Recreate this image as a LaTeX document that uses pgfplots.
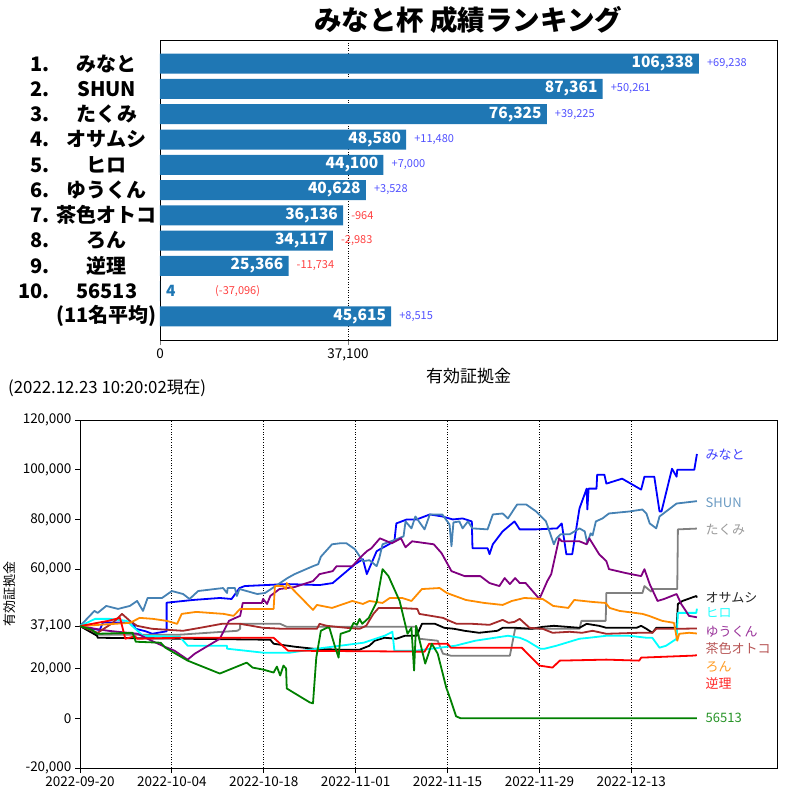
\documentclass[border=0pt]{standalone}
\usepackage{fontspec}
\setmainfont{Noto Sans CJK JP}
\usepackage{pgfplots}
\pgfplotsset{compat=1.18}

\definecolor{c0}{RGB}{31,119,180}
\definecolor{steel}{RGB}{70,130,180}
\definecolor{gry}{RGB}{128,128,128}
\definecolor{cyn}{RGB}{0,255,255}
\definecolor{purp}{RGB}{128,0,128}
\definecolor{brwn}{RGB}{165,42,42}
\definecolor{dorange}{RGB}{255,140,0}
\definecolor{grn}{RGB}{0,128,0}
\definecolor{posblue}{RGB}{80,80,255}
\definecolor{negred}{RGB}{255,64,64}

\newcommand{\rk}[2]{\makebox[30pt][r]{#1}\hspace{5pt}\makebox[104pt][c]{#2}}

\begin{document}
\begin{tikzpicture}
\path[use as bounding box] (0pt,0pt) rectangle (800pt,-800pt);

\node[font=\bfseries\fontsize{27.5}{32}\selectfont] at (468pt,-20pt) {みなと杯 成績ランキング};

% ranking bars
\begin{axis}[
  at={(160pt,-40pt)}, anchor=north west,
  scale only axis, width=617pt, height=300pt,
  xmin=0, xmax=121760,
  ymin=-0.94, ymax=10.94, y dir=reverse,
  scaled x ticks=false, scaled y ticks=false,
  axis line style={line width=0.8pt},
  xtick={0,37100}, xticklabels={0,{37,100}},
  ytick={0,...,10},
  yticklabels={\rk{1.}{みなと},\rk{2.}{SHUN},\rk{3.}{たくみ},\rk{4.}{オサムシ},\rk{5.}{ヒロ},\rk{6.}{ゆうくん},\rk{7.}{茶色オトコ},\rk{8.}{ろん},\rk{9.}{逆理},\rk{10.}{56513},\rk{}{(11名平均)}},
  yticklabel style={font=\bfseries\fontsize{20}{24}\selectfont, inner sep=0pt, xshift=4pt},
  xticklabel style={font=\fontsize{13.5}{16}\selectfont},
  ytick style={draw=none},
  xtick pos=bottom, tick align=outside,
  major tick length=5pt, xtick style={line width=0.8pt},
  xmajorgrids, grid style={black, line width=0.8pt, dash pattern=on 1pt off 1.6pt},
  xlabel={有効証拠金},
  xlabel style={font=\fontsize{17}{20}\selectfont},
]
\addplot[xbar, bar width=20pt, fill=c0, draw=none] table[x=v, y=r] {
r v
0 106338
1 87361
2 76325
3 48580
4 44100
5 40628
6 36136
7 34117
8 25366
9 4
10 45615
};
% values inside the bars
\addplot[draw=none, mark=none, nodes near coords, point meta=explicit symbolic,
  nodes near coords align={horizontal},
  every node near coord/.append style={anchor=east, xshift=-5pt, inner sep=0pt, text=white, font=\bfseries\fontsize{15.5}{18}\selectfont}]
  table[x=v, y=r, meta=lab] {
r v lab
0 106338 106,338
1 87361 87,361
2 76325 76,325
3 48580 48,580
4 44100 44,100
5 40628 40,628
6 36136 36,136
7 34117 34,117
8 25366 25,366
10 45615 45,615
};
\addplot[draw=none, mark=none, nodes near coords, point meta=explicit symbolic,
  nodes near coords align={horizontal},
  every node near coord/.append style={anchor=west, xshift=6pt, inner sep=0pt, text=c0, font=\bfseries\fontsize{15.5}{18}\selectfont}]
  table[x=v, y=r, meta=lab] {
r v lab
9 4 4
};
% change against 37,100
\addplot[draw=none, mark=none, nodes near coords, point meta=explicit symbolic,
  nodes near coords align={horizontal},
  every node near coord/.append style={anchor=west, xshift=8pt, inner sep=0pt, text=posblue, font=\fontsize{11}{13}\selectfont}]
  table[x=v, y=r, meta=lab] {
r v lab
0 106338 +69,238
1 87361 +50,261
2 76325 +39,225
3 48580 +11,480
4 44100 +7,000
5 40628 +3,528
10 45615 +8,515
};
\addplot[draw=none, mark=none, nodes near coords, point meta=explicit symbolic,
  nodes near coords align={horizontal},
  every node near coord/.append style={anchor=west, xshift=8pt, inner sep=0pt, text=negred, font=\fontsize{11}{13}\selectfont}]
  table[x=v, y=r, meta=lab] {
r v lab
6 36136 -964
7 34117 -2,983
8 25366 -11,734
};
\addplot[draw=none, mark=none, nodes near coords, point meta=explicit symbolic,
  nodes near coords align={horizontal},
  every node near coord/.append style={anchor=west, xshift=55pt, inner sep=0pt, text=negred, font=\fontsize{11}{13}\selectfont}]
  table[x=v, y=r, meta=lab] {
r v lab
9 4 (-37,096)
};
\end{axis}

\node[anchor=west, inner sep=0pt, font=\fontsize{16.8}{19}\selectfont] at (8pt,-388pt) {(2022.12.23 10:20:02現在)};

% history
\begin{axis}[
  at={(80pt,-420pt)}, anchor=north west,
  scale only axis, width=697pt, height=348pt,
  xmin=0, xmax=106.2, ymin=-20000, ymax=120000,
  scaled x ticks=false, scaled y ticks=false,
  axis line style={line width=0.8pt},
  xtick={0,14,28,42,56,70,84},
  xticklabels={2022-09-20,2022-10-04,2022-10-18,2022-11-01,2022-11-15,2022-11-29,2022-12-13},
  ytick={-20000,0,20000,37100,60000,80000,100000,120000},
  yticklabels={{-20,000},{0},{20,000},{37,100},{60,000},{80,000},{100,000},{120,000}},
  tick label style={font=\fontsize{13.5}{16}\selectfont},
  xtick pos=bottom, ytick pos=left, tick align=outside,
  major tick length=5pt, tick style={line width=0.8pt, black},
  xmajorgrids, grid style={black, line width=0.8pt, dash pattern=on 1pt off 1.6pt},
  ylabel={有効証拠金},
  ylabel style={font=\fontsize{13}{15}\selectfont},
  every axis plot/.append style={line width=1.8pt, line join=round},
]
% みなと
\addplot[blue] coordinates {
(0,37100)(2,36000)(3,35500)(3.5,38500)(8,38500)(8.5,36000)(10,35000)(11,34000)(13.2,35000)(13.2,46500)
(17.2,47600)(21.3,48400)(23.1,48000)(24.3,52400)(25.1,53200)(31.5,54000)(36.5,53600)(38.5,54400)
(41.9,62000)(43.1,64000)(43.7,58000)(45.2,67200)(45.7,68000)(47.9,71200)(48.2,78400)(49.8,80000)
(51.3,80000)(53.3,82000)(55.2,81200)(56.8,80000)(58.3,80400)(59.7,79200)(59.8,68400)(62.1,68400)
(62.4,66000)(62.9,70000)(64.4,75200)(66.2,79200)(67.0,76000)(69.5,76000)(72.7,76400)(73.4,78400)
(74.1,66000)(75.0,66000)(76.1,84400)(77.2,92400)(77.3,84000)(77.5,92400)(78.7,92400)(78.8,98000)
(79.9,98000)(80.2,94400)(82.6,96400)(85.5,92000)(86.0,97200)(87.5,97200)(88.3,83200)(88.6,83200)
(90.2,100400)(90.9,97200)(91.0,100000)(93.6,100000)(94,106338)
};
% SHUN
\addplot[steel] coordinates {
(0,37100)(2.2,43200)(2.7,42400)(4,45200)(5.8,44000)(7.6,45200)(8.7,47200)(9.6,43200)(10.3,48400)
(12.5,48400)(14,51200)(15.7,50000)(16.7,48000)(18,51200)(21.8,52400)(22.4,50400)(22.5,52400)
(23.6,52400)(23.9,49200)(24.3,52000)(27,50000)(28.2,50400)(31.6,56400)(32.7,58000)(35.5,61200)
(36.3,62000)(36.7,65000)(38.4,70000)(39.6,70400)(40.6,70400)(41.9,68000)(42.6,65200)(43.1,63200)
(44.1,63600)(45.2,61200)(45.6,64400)(46.1,70000)(48.2,72000)(49.3,73200)(49.6,79200)(50.5,76400)
(51.1,81200)(52.5,76000)(53.3,82000)(55.2,82000)(56.3,78000)(56.6,69200)(56.9,78800)(57.8,79200)
(58.3,76400)(59.1,79200)(59.8,76400)(62.1,76000)(62.9,82000)(64.4,82400)(65.2,80400)(66.6,86000)
(68.0,86000)(69.5,83200)(71.0,79200)(72.2,70000)(72.6,72400)(73.2,74000)(74.6,74000)(76.1,76400)
(76.9,75200)(77.3,70400)(77.8,74400)(78.1,73600)(78.6,79200)(79.6,80400)(80.6,82400)(83.7,83200)
(85.7,84000)(86.3,82400)(86.8,78400)(87.8,76400)(88.3,81200)(90.9,86400)(94,87361)
};
% たくみ
\addplot[gry] coordinates {
(0,37100)(2,35000)(2.5,33600)(15,33600)(24,35200)(24.4,36000)(24.4,38000)(30.5,38000)(31.5,36800)
(51.3,36800)(51.7,32000)(54.5,31200)(55.3,26000)(56.5,25200)(65.5,25200)(66.3,36000)(76.1,36000)
(76.4,39200)(80.1,39200)(80.2,50400)(85.7,50400)(86,53200)(87,51000)(87.2,52000)(91,52000)
(91.1,76000)(94,76325)
};
% オサムシ
\addplot[black] coordinates {
(0,37100)(2.6,33200)(2.7,32400)(16,32000)(29,31600)(29.5,30000)(32.7,28800)(35.5,28000)(39.5,27600)
(42.6,27600)(44.1,29200)(44.9,31200)(46.4,32400)(48.2,32000)(49.5,33200)(51.3,33200)(52.1,38000)
(54.1,38000)(55.5,36400)(57,36000)(58.6,35200)(60.8,34400)(63.6,35200)(64.4,36400)(66.4,36400)
(68.8,36000)(70.5,36800)(72.2,37200)(76.1,36400)(77.2,38000)(79.1,37200)(80.2,36400)(84.8,36400)
(85.5,37200)(86.3,36000)(87.2,34400)(87.8,36400)(90.9,36400)(91.1,46000)(91.8,47200)(93.9,49200)
(94,48580)
};
% ヒロ
\addplot[cyn] coordinates {
(0,37100)(2.3,40000)(4.5,40000)(7.1,39200)(9.6,33200)(15.2,32800)(16.4,29200)(22.4,29200)
(22.4,28000)(27.9,26400)(32,26400)(36.1,28000)(43.2,30400)(46.4,33200)(47.6,34800)(47.9,27200)
(51.2,27200)(53.6,28000)(57.2,29200)(60.2,31200)(63.2,32400)(65.2,33200)(67.0,32400)(68.1,31200)
(70.1,28000)(70.8,28000)(72.6,29200)(74.1,30400)(76.1,32000)(77.6,32400)(80.2,33200)(83.7,33200)
(86.3,32400)(87.2,32400)(88.3,28400)(89.3,29200)(90.9,32000)(91.1,42400)(93.9,42400)(94,44100)
};
% ゆうくん
\addplot[purp] coordinates {
(0,37100)(2.3,36000)(4.3,35200)(8.8,34000)(10.9,31200)(12.9,28800)(14.4,27200)(16.4,23600)
(17.5,26000)(21.3,32000)(22.7,39200)(23.7,40400)(24.4,41200)(24.8,46400)(27.7,46400)(27.9,48000)
(28.5,46000)(29,49200)(30.4,52000)(32.7,52800)(35.5,55200)(36.5,58000)(38.5,59200)(39.1,61200)
(41.5,61200)(42.6,64400)(43.7,67200)(44.4,68400)(45.7,72400)(47.5,70400)(48.9,72400)(49.6,68800)
(50.6,71200)(53.9,70000)(55.1,66400)(56.6,59200)(58.6,57200)(61.0,57200)(62.4,54400)(63.9,53200)
(64.7,56400)(65.5,54000)(66.3,56400)(67.0,54400)(67.9,54400)(70.0,48000)(71.2,55200)(71.8,58000)
(73.0,72400)(73.4,71200)(76.1,71200)(77.2,70000)(77.6,72400)(79.1,66000)(80.2,63200)(80.6,60000)
(83.2,58400)(85.5,57200)(86.0,60000)(86.8,54000)(88.0,47200)(89.0,48000)(90.9,50000)(91.6,46000)
(92.8,41200)(94,40628)
};
% 茶色オトコ
\addplot[brwn] coordinates {
(0,37100)(2.7,34400)(5.0,38400)(6.4,42000)(7.6,39200)(8.7,37200)(11,36000)(15.7,35200)(18.3,36400)
(21.6,38000)(24.4,38000)(27.9,36400)(30.9,36000)(36.1,36000)(36.5,38000)(37.6,37200)(40.6,36400)
(42.6,36000)(43.6,37200)(44.7,42000)(45.5,44400)(48.4,44400)(51.4,44000)(51.7,42000)(55.3,40400)
(56.3,39200)(57.4,38000)(59.8,38000)(62.4,37600)(64.4,39600)(65.3,38400)(66.2,38800)(67.0,40000)
(68.5,36400)(70.5,36000)(72.0,34400)(74.6,34800)(76.5,34400)(78.1,35200)(80.2,34000)(85.2,34400)
(87.2,34400)(87.8,36000)(91,36000)(94,36136)
};
% ろん
\addplot[dorange] coordinates {
(0,37100)(7.6,38400)(9.1,40400)(11.1,40000)(13.2,39200)(14.8,38000)(15.5,42000)(17.7,42800)
(21.9,42000)(23.4,41200)(24.4,44000)(29.5,44000)(29.7,53200)(30.9,53200)(31.4,52000)(31.5,54400)
(35.5,43600)(36.1,45600)(38.4,44400)(41.5,47200)(43.1,46000)(44.1,47200)(46.1,46400)(47.2,48400)
(49.1,48400)(50.5,47200)(52.1,52000)(54.8,52400)(55.9,50400)(58.8,47600)(61.6,46400)(64.4,45600)
(65.8,47200)(67.7,48400)(70.5,48000)(72.1,45200)(74.4,44400)(75.3,47600)(78.1,46800)(80.1,46400)
(80.7,44400)(82.2,43200)(85.7,42000)(86.7,41200)(88.7,39200)(90.5,38400)(91.0,31200)(91.3,34000)
(92.8,34400)(94,34117)
};
% 逆理
\addplot[red] coordinates {
(0,37100)(4.3,39200)(6.1,40400)(6.9,32000)(8.4,33000)(8.7,32000)(15,32400)(29.5,32400)(31.7,27200)
(52.5,26800)(53.2,30000)(56.0,30000)(56.5,28400)(67.3,28400)(70.0,21200)(72.0,20400)(73.1,23200)
(80.2,23600)(85.2,23200)(85.5,24400)(93.3,25200)(94,25366)
};
% 56513
\addplot[grn] coordinates {
(0,37100)(1.8,35600)(2.6,34000)(8,34400)(8.5,30800)(12.3,30400)(13.0,28400)(16.4,23200)(21.3,18000)
(25.4,22400)(26.3,20400)(27.9,19600)(29.5,18400)(30.0,20800)(30.5,17200)(31.0,21200)(31.4,20000)
(31.5,12000)(35.0,6400)(35.5,6000)(36.0,24400)(36.7,35200)(37.6,36400)(38.0,36400)(38.9,28400)
(39.4,24400)(39.7,34000)(41.1,35200)(41.7,38400)(42.2,37600)(42.6,40000)(43.0,38000)(44.0,40400)
(45.2,46800)(46.1,60000)(47.0,57200)(48.7,47200)(49.9,34000)(50.5,36400)(50.9,19200)(51.2,37200)
(52.6,22000)(53.6,30000)(54.5,26000)(55.8,12400)(56.5,7200)(57.3,800)(58.0,0)(94,4)
};
\begin{scope}[every node/.style={anchor=west, inner sep=0pt, font=\fontsize{13}{15}\selectfont}]
\node[text=blue!75!white] at (axis cs:95.3,106000) {みなと};
\node[text=steel!80!white] at (axis cs:95.3,86900) {SHUN};
\node[text=gry!80!white] at (axis cs:95.3,76000) {たくみ};
\node[text=black!85!white] at (axis cs:95.3,48400) {オサムシ};
\node[text=cyn!85!white] at (axis cs:95.3,42400) {ヒロ};
\node[text=purp!80!white] at (axis cs:95.3,34800) {ゆうくん};
\node[text=brwn!80!white] at (axis cs:95.3,28000) {茶色オトコ};
\node[text=dorange!85!white] at (axis cs:95.3,20800) {ろん};
\node[text=red!85!white] at (axis cs:95.3,14000) {逆理};
\node[text=grn!85!white] at (axis cs:95.3,0) {56513};
\end{scope}
\end{axis}
\end{tikzpicture}
\end{document}
